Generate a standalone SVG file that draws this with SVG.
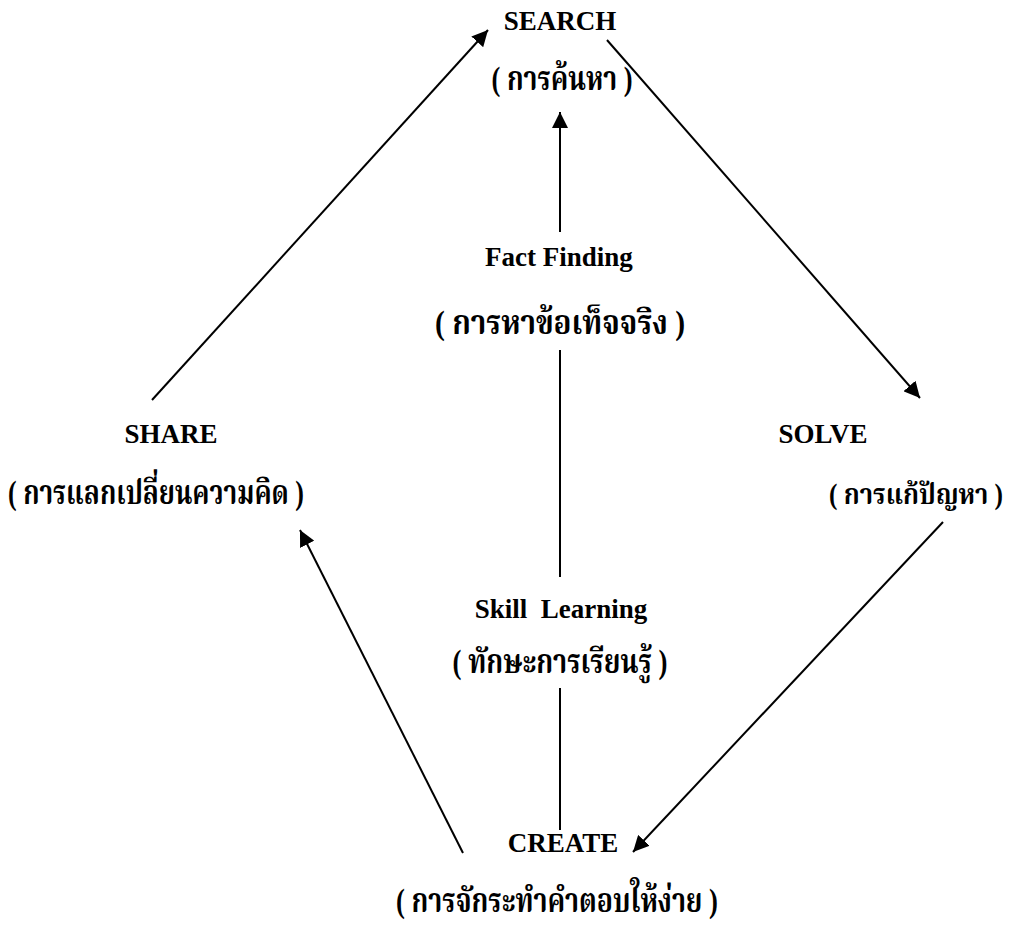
<svg xmlns="http://www.w3.org/2000/svg" width="1020" height="927" viewBox="0 0 1020 927">
<defs>
<style>
.en{font-family:"Liberation Serif","Times New Roman",serif;font-weight:bold;font-size:27px;fill:#000;text-anchor:middle}
.th{font-family:"Liberation Serif","Noto Serif Thai","Noto Sans Thai","DejaVu Sans",serif;font-weight:bold;font-size:33px;fill:#000;text-anchor:middle}
.ln{stroke:#000;stroke-width:2;fill:none}
</style>
<marker id="ah" markerUnits="userSpaceOnUse" markerWidth="18" markerHeight="16" refX="16" refY="8" orient="auto">
<path d="M0,0 L16,8 L0,16 Z" fill="#000"/>
</marker>
</defs>
<rect width="1020" height="927" fill="#fff"/>
<g id="connectors">
<line class="ln" x1="152" y1="400" x2="488" y2="30" marker-end="url(#ah)"/>
<line class="ln" x1="607" y1="40" x2="920" y2="398" marker-end="url(#ah)"/>
<line class="ln" x1="943" y1="522" x2="633" y2="852" marker-end="url(#ah)"/>
<line class="ln" x1="463" y1="853" x2="300" y2="530" marker-end="url(#ah)"/>
<line class="ln" x1="560" y1="232" x2="560" y2="112" marker-end="url(#ah)"/>
<line class="ln" x1="560" y1="350" x2="560" y2="577"/>
<line class="ln" x1="560" y1="688" x2="560" y2="830"/>
</g>
<g id="search"><text class="en" x="560" y="30">SEARCH</text><text class="th" x="562" y="90" textLength="141" lengthAdjust="spacingAndGlyphs">( การค้นหา )</text></g>
<g id="fact-finding"><text class="en" x="559" y="266">Fact Finding</text><text class="th" x="560" y="334" textLength="250" lengthAdjust="spacingAndGlyphs">( การหาข้อเท็จจริง )</text></g>
<g id="share"><text class="en" x="171" y="443">SHARE</text><text class="th" x="156" y="504" textLength="296" lengthAdjust="spacingAndGlyphs">( การแลกเปลี่ยนความคิด )</text></g>
<g id="solve"><text class="en" x="823" y="443">SOLVE</text><text class="th" x="916" y="504" style="font-size:29px" textLength="174" lengthAdjust="spacingAndGlyphs">( การแก้ปัญหา )</text></g>
<g id="skill-learning"><text class="en" x="561" y="618" xml:space="preserve">Skill  Learning</text><text class="th" x="560" y="673" textLength="215" lengthAdjust="spacingAndGlyphs">( ทักษะการเรียนรู้ )</text></g>
<g id="create"><text class="en" x="563" y="852">CREATE</text><text class="th" x="557" y="912" textLength="322" lengthAdjust="spacingAndGlyphs">( การจักระทำคำตอบให้ง่าย )</text></g>
</svg>
